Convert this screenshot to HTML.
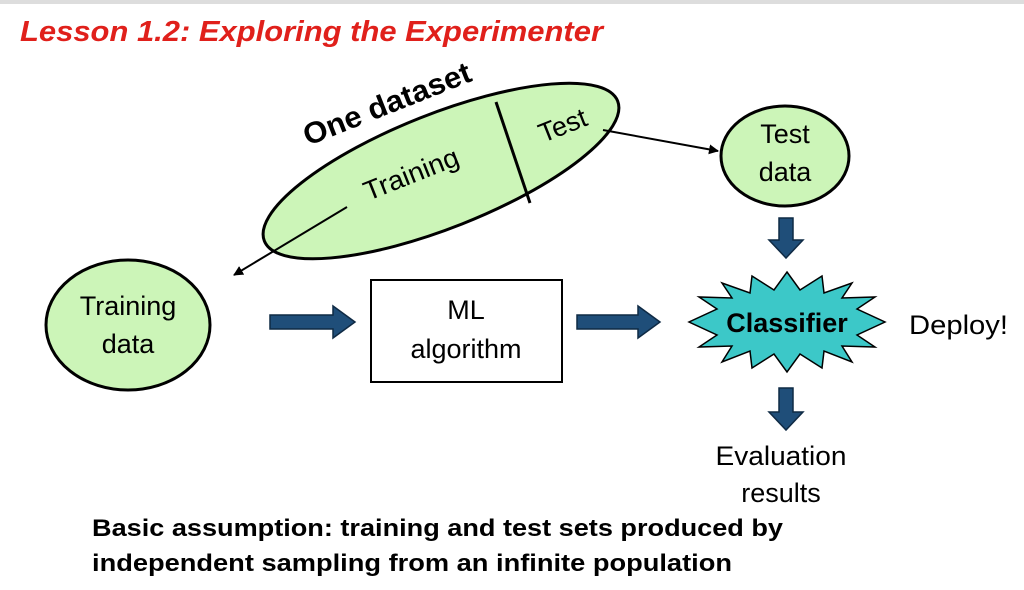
<!DOCTYPE html>
<html><head><style>
body{margin:0;background:#fff;width:1024px;height:585px;overflow:hidden}
svg text{font-family:"Liberation Sans",sans-serif}
</style></head><body>
<svg width="1024" height="585" viewBox="0 0 1024 585">
<rect x="0" y="0" width="1024" height="4" fill="#ddd"/>
<text x="20" y="41" font-size="29" font-style="italic" font-weight="bold" fill="#e0201b" textLength="583" lengthAdjust="spacingAndGlyphs">Lesson 1.2: Exploring the Experimenter</text>
<ellipse cx="441" cy="171" rx="190" ry="57" transform="rotate(-21.6 441 171)" fill="#ccf5b8" stroke="#000" stroke-width="3"/>
<line x1="496" y1="102" x2="530" y2="203" stroke="#000" stroke-width="3"/>
<text x="0" y="0" font-size="30" font-weight="bold" transform="translate(308 146) rotate(-21.6)" textLength="178" lengthAdjust="spacingAndGlyphs">One dataset</text>
<text x="0" y="0" font-size="27" transform="translate(368 201) rotate(-21.6)" textLength="100" lengthAdjust="spacingAndGlyphs">Training</text>
<text x="0" y="0" font-size="27" transform="translate(543 143) rotate(-21.6)">Test</text>
<ellipse cx="785" cy="156" rx="64" ry="50" fill="#ccf5b8" stroke="#000" stroke-width="3"/>
<text x="785" y="143" font-size="27" text-anchor="middle">Test</text>
<text x="785" y="181" font-size="27" text-anchor="middle">data</text>
<ellipse cx="128" cy="325" rx="82" ry="65" fill="#ccf5b8" stroke="#000" stroke-width="3"/>
<text x="128" y="315" font-size="27" text-anchor="middle">Training</text>
<text x="128" y="353" font-size="27" text-anchor="middle">data</text>
<rect x="371" y="280" width="191" height="102" fill="#fff" stroke="#000" stroke-width="2"/>
<text x="466" y="319" font-size="27" text-anchor="middle">ML</text>
<text x="466" y="358" font-size="27" text-anchor="middle">algorithm</text>
<defs><marker id="ah" markerWidth="10" markerHeight="10" refX="9" refY="5" orient="auto" markerUnits="userSpaceOnUse"><path d="M0,0 L10,5 L0,10 Z" fill="#000"/></marker></defs>
<line x1="603" y1="130" x2="718" y2="151" stroke="#000" stroke-width="2" marker-end="url(#ah)"/>
<line x1="347" y1="207" x2="234" y2="275" stroke="#000" stroke-width="2" marker-end="url(#ah)"/>
<g fill="#1f4e79" stroke="#0f2a44" stroke-width="1.5">
<path d="M270,315 L333,315 L333,306 L355,322 L333,338 L333,329 L270,329 Z"/>
<path d="M577,315 L638,315 L638,306 L660,322 L638,338 L638,329 L577,329 Z"/>
<path d="M779,218 L793,218 L793,240 L803,240 L786,258 L769,240 L779,240 Z"/>
<path d="M779,388 L793,388 L793,412 L803,412 L786,430 L769,412 L779,412 Z"/>
</g>
<polygon fill="#3cc8c8" stroke="#000" stroke-width="1.5" points="
787,272 800,290 822,276 824,293 852,283 842,298 875,297 857,309 885,322 857,335 875,347 842,346 852,362 824,351 822,368 800,354 787,372 774,354 752,368 750,351 722,362 732,346 699,347 717,335 689,322 717,309 699,297 732,298 722,283 750,293 752,276 774,290"/>
<text x="787" y="332" font-size="27" font-weight="bold" text-anchor="middle">Classifier</text>
<text x="909" y="334" font-size="27" textLength="99" lengthAdjust="spacingAndGlyphs">Deploy!</text>
<text x="781" y="465" font-size="27" text-anchor="middle" textLength="131" lengthAdjust="spacingAndGlyphs">Evaluation</text>
<text x="781" y="502" font-size="27" text-anchor="middle">results</text>
<text x="92" y="536" font-size="24" font-weight="bold" textLength="691" lengthAdjust="spacingAndGlyphs">Basic assumption: training and test sets produced by</text>
<text x="92" y="571" font-size="24" font-weight="bold" textLength="640" lengthAdjust="spacingAndGlyphs">independent sampling from an infinite population</text>
</svg>
</body></html>
